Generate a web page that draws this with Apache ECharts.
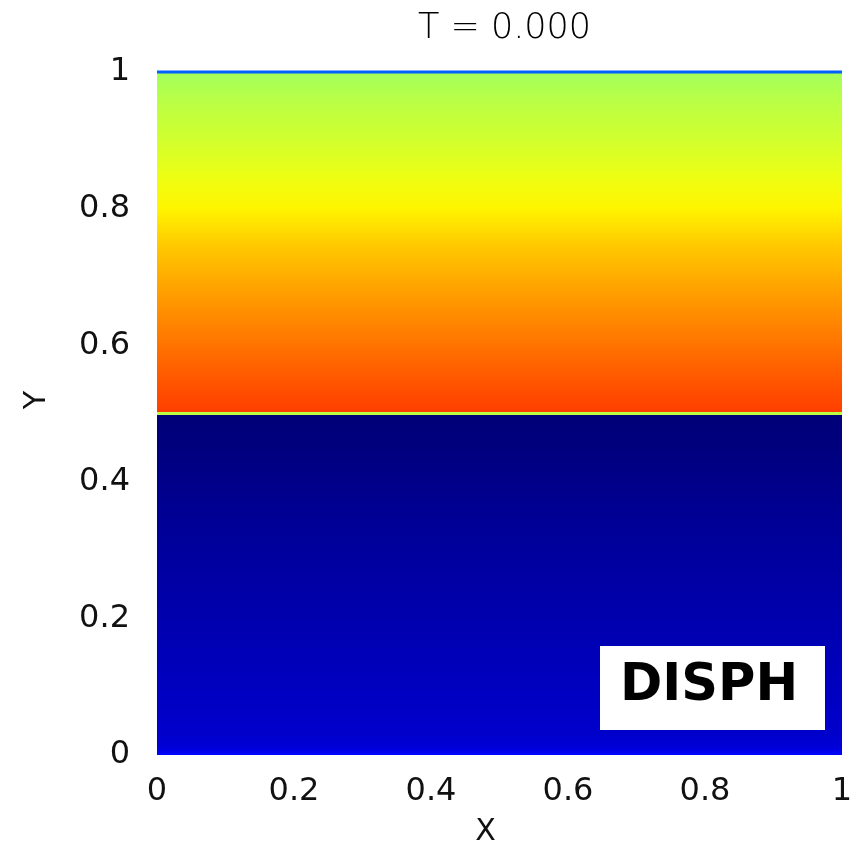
<!DOCTYPE html>
<html>
<head>
<meta charset="utf-8">
<script src="https://cdn.jsdelivr.net/npm/echarts@6/dist/echarts.min.js"></script>
<style>
html,body{margin:0;padding:0;background:#fff;}
#chart{width:852px;height:847px;}
</style>
</head>
<body>
<div id="chart"></div>
<script>
// ---- data ----
const titleText = 'T = 0.000';
const panelLabel = 'DISPH';
const xExtent = [0, 1];
// lower fluid (y from 0 to 0.5): sampled heights and colour-scale values
const lowerY = [0, 0.01, 0.03, 0.1, 0.15, 0.2, 0.25, 0.3, 0.35, 0.4, 0.45, 0.5];
const lowerV = [0.13, 0.09, 0.078, 0.067, 0.058, 0.05, 0.042, 0.034, 0.026, 0.016, 0.006, 0.0];
// upper fluid (y from 0.5 to 1)
const upperY = [0.5, 0.55, 0.6, 0.65, 0.7, 0.75, 0.8, 0.85, 0.9, 0.95, 1.0];
const upperV = [0.815, 0.79, 0.762, 0.735, 0.705, 0.675, 0.635, 0.605, 0.58, 0.56, 0.535];
// thin boundary layers (interface and free surface)
const surfaceY = [0.5, 1.0];
const surfaceV = [0.56, 0.22];
const xTicks = [0, 0.2, 0.4, 0.6, 0.8, 1];
const yTicks = [0, 0.2, 0.4, 0.6, 0.8, 1];

// jet colour map (style)
const jetStops = [[0,[0,0,120]],[0.125,[0,0,255]],[0.375,[0,255,255]],[0.625,[255,255,0]],[0.875,[255,0,0]],[1,[128,0,0]]];
function jet(v){
  v = Math.max(0, Math.min(1, v));
  for (let i = 1; i < jetStops.length; i++) {
    const a = jetStops[i-1], b = jetStops[i];
    if (v <= b[0]) {
      const t = (v - a[0]) / (b[0] - a[0]);
      const c = a[1].map((x, k) => Math.round(x + (b[1][k] - x) * t));
      return 'rgb(' + c.join(',') + ')';
    }
  }
  return 'rgb(128,0,0)';
}

function bands(ys, vs){
  const out = [];
  for (let i = 0; i < ys.length - 1; i++) {
    out.push([xExtent[0], xExtent[1], ys[i], ys[i+1], vs[i], vs[i+1]]);
  }
  return out;
}
const bandData = bands(lowerY, lowerV).concat(bands(upperY, upperV));
const surfaceData = surfaceY.map((y, i) => [xExtent[0], xExtent[1], y, surfaceV[i]]);

const chart = echarts.init(document.getElementById('chart'), null, {renderer: 'canvas'});
const FONT = 'DejaVu Sans';
chart.setOption({
  backgroundColor: '#ffffff',
  animation: false,
  title: {
    text: titleText,
    left: 499.5, top: 6, textAlign: 'center',
    textStyle: {fontFamily: FONT, fontWeight: 200, fontSize: 35, color: '#000'}
  },
  grid: {left: 157, right: 10, top: 72, bottom: 92, outerBoundsMode: 'none', containLabel: false},
  xAxis: {
    type: 'value', min: 0, max: 1, interval: 0.2,
    name: 'X', nameLocation: 'middle', nameGap: 62,
    nameTextStyle: {fontFamily: FONT, fontSize: 30, color: '#111', padding: [0, 28, 0, 0]},
    axisLine: {show: false}, axisTick: {show: false}, splitLine: {show: false},
    axisLabel: {fontFamily: FONT, fontSize: 32, color: '#111', margin: 21,
      formatter: v => String(xTicks.find(t => Math.abs(t - v) < 1e-9) ?? v)}
  },
  yAxis: {
    type: 'value', min: 0, max: 1, interval: 0.2,
    name: 'Y', nameLocation: 'middle', nameGap: 105, nameRotate: 90,
    nameTextStyle: {fontFamily: FONT, fontSize: 30, color: '#111', padding: [0, 0, 0, 27]},
    axisLine: {show: false}, axisTick: {show: false}, splitLine: {show: false},
    axisLabel: {fontFamily: FONT, fontSize: 32, color: '#111', margin: 27,
      formatter: v => String(yTicks.find(t => Math.abs(t - v) < 1e-9) ?? v)}
  },
  series: [
    {
      type: 'custom',
      data: bandData,
      clip: true,
      renderItem: function(params, api){
        const x0 = api.value(0), x1 = api.value(1), y0 = api.value(2), y1 = api.value(3);
        const v0 = api.value(4), v1 = api.value(5);
        const tl = api.coord([x0, y1]);
        const br = api.coord([x1, y0]);
        return {
          type: 'rect',
          shape: {x: tl[0], y: tl[1] - 0.5, width: br[0] - tl[0], height: br[1] - tl[1] + 1},
          style: {
            fill: new echarts.graphic.LinearGradient(0, 0, 0, 1, [
              {offset: 0, color: jet(v1)}, {offset: 1, color: jet(v0)}
            ])
          }
        };
      }
    },
    {
      type: 'custom',
      data: surfaceData,
      renderItem: function(params, api){
        const a = api.coord([api.value(0), api.value(2)]);
        const b = api.coord([api.value(1), api.value(2)]);
        return {
          type: 'line',
          shape: {x1: a[0], y1: a[1], x2: b[0], y2: b[1]},
          style: {stroke: jet(api.value(3)), lineWidth: 3}
        };
      }
    }
  ],
  graphic: [
    {
      type: 'rect', z: 100, left: 600, top: 646,
      shape: {width: 225, height: 84}, style: {fill: '#ffffff'}
    },
    {
      type: 'text', z: 101, left: 620, top: 661,
      style: {text: panelLabel, fontFamily: FONT, fontWeight: 'bold', fontSize: 51, fill: '#000'}
    }
  ]
});
</script>
</body>
</html>
